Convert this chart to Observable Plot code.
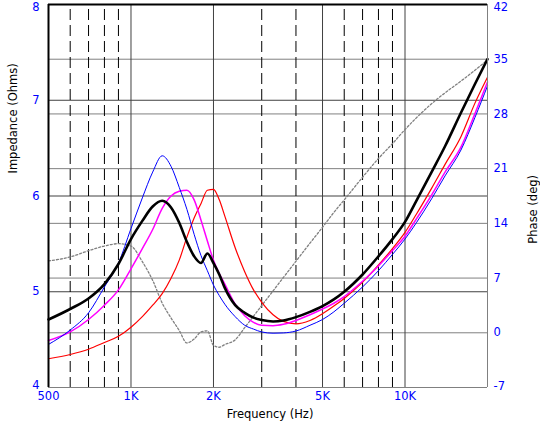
<!DOCTYPE html>
<html>
<head>
<meta charset="utf-8">
<script src="https://cdn.jsdelivr.net/npm/d3@7"></script>
<script src="https://cdn.jsdelivr.net/npm/@observablehq/plot@0.6"></script>
<style>
  html, body { margin: 0; padding: 0; background: #ffffff; }
</style>
</head>
<body>
<div id="chart"></div>
<script>
// ---- Data ----
const freq = [500, 600, 700, 800, 900, 1000, 1100, 1200, 1300, 1400, 1500, 1600, 1700, 1800, 1900, 2000, 2100, 2200, 2400, 2600, 2800, 3000, 3300, 3600, 4000, 4500, 5000, 5500, 6000, 7000, 8000, 9000, 10000, 11000, 12500, 14000, 16000, 18000, 20000];

const impBlack   = [4.71, 4.82, 4.93, 5.08, 5.29, 5.55, 5.74, 5.89, 5.95, 5.88, 5.72, 5.52, 5.37, 5.30, 5.40, 5.30, 5.18, 5.04, 4.86, 4.78, 4.73, 4.705, 4.69, 4.70, 4.735, 4.79, 4.85, 4.92, 5.00, 5.18, 5.37, 5.55, 5.73, 5.95, 6.25, 6.52, 6.87, 7.17, 7.43];
const impBlue    = [4.45, 4.60, 4.78, 5.05, 5.30, 5.66, 5.98, 6.25, 6.42, 6.31, 6.09, 5.86, 5.60, 5.38, 5.22, 5.07, 4.96, 4.87, 4.74, 4.65, 4.61, 4.58, 4.567, 4.57, 4.59, 4.65, 4.71, 4.79, 4.88, 5.05, 5.22, 5.39, 5.55, 5.72, 5.97, 6.21, 6.48, 6.82, 7.15];
const impMagenta = [4.49, 4.58, 4.71, 4.86, 5.02, 5.24, 5.45, 5.65, 5.87, 6.00, 6.05, 6.06, 5.96, 5.75, 5.53, 5.33, 5.19, 5.08, 4.87, 4.75, 4.68, 4.65, 4.645, 4.66, 4.70, 4.76, 4.82, 4.88, 4.95, 5.11, 5.27, 5.43, 5.58, 5.76, 6.01, 6.25, 6.51, 6.86, 7.19];
const impRed     = [4.30, 4.345, 4.40, 4.47, 4.535, 4.63, 4.74, 4.86, 4.98, 5.14, 5.33, 5.57, 5.77, 5.92, 6.06, 6.07, 5.96, 5.79, 5.46, 5.21, 5.02, 4.89, 4.76, 4.69, 4.665, 4.70, 4.77, 4.85, 4.93, 5.10, 5.28, 5.45, 5.62, 5.81, 6.08, 6.33, 6.62, 6.97, 7.24];
const phaseGray  = [9.2, 9.7, 10.5, 11.1, 11.4, 11.1, 9.1, 6.7, 3.8, 1.9, 0.3, -1.3, -0.8, 0.1, 0.25, -1.6, -1.85, -1.5, -0.9, 0.66, 2.13, 3.49, 5.36, 7.08, 9.15, 11.47, 13.5, 15.4, 17.0, 19.9, 22.3, 24.2, 26.0, 27.5, 29.3, 30.7, 32.2, 33.6, 34.9];

const xTicks = [500, 1000, 2000, 5000, 10000];
const xTickLabels = ["500", "1K", "2K", "5K", "10K"];
const impTicks = [4, 5, 6, 7, 8];
const phaseTicks = [-7, 0, 7, 14, 21, 28, 35, 42];
const solidFreqs = [1000, 2000, 5000, 10000];
const dashedFreqs = [600, 700, 800, 900, 3000, 4000, 6000, 7000, 8000, 9000];
const impGrid = [5, 6, 7];
const phaseGrid = [0, 7, 14, 21, 28, 35];

// secondary (phase) axis shares the impedance y scale
const impMin = 4, impMax = 8, phaseMin = -7, phaseMax = 42;
const phaseToImp = p => impMin + (p - phaseMin) / (phaseMax - phaseMin) * (impMax - impMin);

const rows = (vals) => freq.map((f, i) => ({f, v: vals[i]}));
const phaseRows = freq.map((f, i) => ({f, p: phaseGray[i]}));

const BLUE_TXT = "#0000ff";
const impBottom = impTicks.slice(0, 1), impMid = impTicks.slice(1, -1), impTop = impTicks.slice(-1);
const phBottom = phaseTicks.slice(0, 1), phMid = phaseTicks.slice(1, -1), phTop = phaseTicks.slice(-1);

const chart = Plot.plot({
  width: 540,
  height: 424,
  marginLeft: 48,
  marginRight: 53,
  marginTop: 4,
  marginBottom: 37,
  style: {fontFamily: "'DejaVu Sans', Verdana, sans-serif", fontSize: "11.5px", background: "#ffffff", color: "#000"},
  x: {type: "log", domain: [500, 20000], label: null, axis: null},
  y: {domain: [impMin, impMax], label: null, axis: null},
  marks: [
    // grid
    Plot.ruleY(phaseGrid, {y: d => phaseToImp(d), stroke: "#808080", strokeWidth: 1}),
    Plot.ruleY(impGrid, {stroke: "#404040", strokeWidth: 1}),
    Plot.ruleX(solidFreqs, {stroke: "#404040", strokeWidth: 1}),
    Plot.ruleX(dashedFreqs, {stroke: "#000000", strokeWidth: 1, strokeDasharray: "11,5", strokeDashoffset: 11}),
    // curves
    Plot.line(phaseRows, {x: "f", y: d => phaseToImp(d.p), stroke: "#808080", strokeWidth: 1.3, strokeDasharray: "2,2", curve: "monotone-x"}),
    Plot.line(rows(impRed), {x: "f", y: "v", stroke: "#ff0000", strokeWidth: 1.2, curve: "monotone-x"}),
    Plot.line(rows(impMagenta), {x: "f", y: "v", stroke: "#ff00ff", strokeWidth: 1.5, curve: "monotone-x"}),
    Plot.line(rows(impBlue), {x: "f", y: "v", stroke: "#0000ff", strokeWidth: 1, curve: "monotone-x"}),
    Plot.line(rows(impBlack), {x: "f", y: "v", stroke: "#000000", strokeWidth: 2.6, curve: "monotone-x"}),
    // frame
    Plot.ruleX([20000], {stroke: "#808080", strokeWidth: 1}),
    Plot.ruleY([impMin], {stroke: "#808080", strokeWidth: 1}),
    Plot.ruleX([500], {stroke: "#000000", strokeWidth: 2}),
    Plot.ruleY([impMax], {stroke: "#000000", strokeWidth: 2}),
    // tick labels (bottom)
    Plot.text(xTicks, {x: d => d, text: (d, i) => xTickLabels[i], frameAnchor: "bottom", dy: 12.5, fill: BLUE_TXT}),
    // tick labels (left, impedance)
    Plot.text(impBottom, {y: d => d, text: d => String(d), frameAnchor: "left", textAnchor: "end", dx: -9, dy: -2.5, fill: BLUE_TXT}),
    Plot.text(impMid, {y: d => d, text: d => String(d), frameAnchor: "left", textAnchor: "end", dx: -9, fill: BLUE_TXT}),
    Plot.text(impTop, {y: d => d, text: d => String(d), frameAnchor: "left", textAnchor: "end", dx: -9, dy: 2.5, fill: BLUE_TXT}),
    // tick labels (right, phase)
    Plot.text(phBottom, {y: d => phaseToImp(d), text: d => String(d), frameAnchor: "right", textAnchor: "start", dx: 6, dy: -1.5, fill: BLUE_TXT}),
    Plot.text(phMid, {y: d => phaseToImp(d), text: d => String(d), frameAnchor: "right", textAnchor: "start", dx: 6, fill: BLUE_TXT}),
    Plot.text(phTop, {y: d => phaseToImp(d), text: d => String(d), frameAnchor: "right", textAnchor: "start", dx: 6, dy: 2.5, fill: BLUE_TXT}),
    // axis titles
    Plot.text(["Frequency (Hz)"], {text: d => d, frameAnchor: "bottom", dx: 2, dy: 30, fill: "#000"}),
    Plot.text(["Impedance (Ohms)"], {text: d => d, frameAnchor: "left", rotate: -90, dx: -35.5, dy: -22.5, fill: "#000"}),
    Plot.text(["Phase (deg)"], {text: d => d, frameAnchor: "right", rotate: -90, dx: 46, dy: -21, fill: "#000"})
  ]
});
document.getElementById("chart").appendChild(chart);
</script>
</body>
</html>
